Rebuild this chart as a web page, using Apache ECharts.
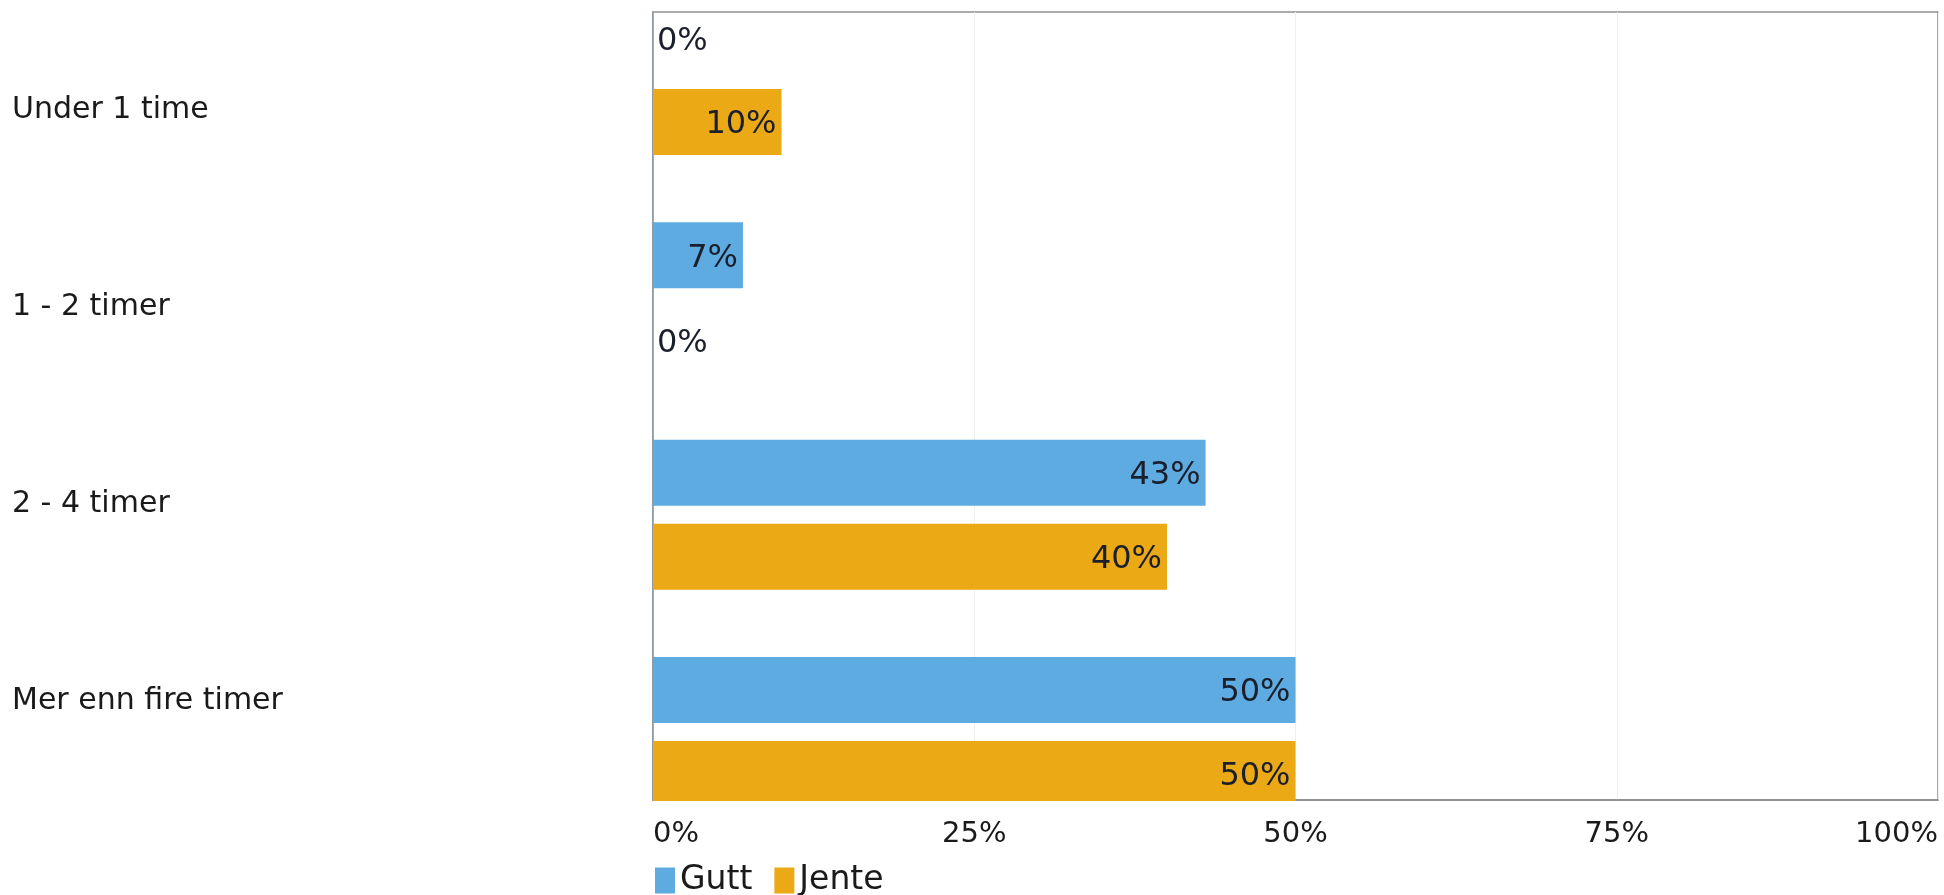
<!DOCTYPE html>
<html>
<head>
<meta charset="utf-8">
<script src="https://cdn.jsdelivr.net/npm/echarts@6/dist/echarts.min.js"></script>
<style>
html,body{margin:0;padding:0;background:#fff;}
#chart{width:1944px;height:895px;}
</style>
</head>
<body>
<div id="chart"></div>
<script>
var categories = ['Under 1 time', '1 - 2 timer', '2 - 4 timer', 'Mer enn fire timer'];
var gutt = [0, 7, 43, 50];
var jente = [10, 0, 40, 50];
var seriesNames = ['Gutt', 'Jente'];
var xTicks = [0, 25, 50, 75, 100];

var FONT = '"DejaVu Sans", Verdana, sans-serif';

function items(arr) {
  return arr.map(function (v) {
    return v === 0 ? { value: v, label: { position: 'right', distance: 4, offset: [0, 4] } } : { value: v };
  });
}

var labelCfg = {
  show: true,
  position: 'insideRight',
  distance: 5,
  offset: [0, 3],
  formatter: '{c}%',
  color: '#1a1f2b',
  fontFamily: FONT,
  fontSize: 32
};

var chart = echarts.init(document.getElementById('chart'), null, { renderer: 'canvas' });
chart.setOption({
  animation: false,
  backgroundColor: '#ffffff',
  grid: [
    { left: 653, right: 6, top: 12, bottom: 95, show: true, borderColor: '#8f8f8f', borderWidth: 1.5, backgroundColor: 'transparent' },
    { left: 653, right: 6, top: 80, bottom: 163 }
  ],
  legend: {
    data: seriesNames,
    left: 655,
    top: 864,
    icon: 'rect',
    itemWidth: 20,
    itemHeight: 26,
    itemGap: 22,
    padding: 0,
    textStyle: { fontFamily: FONT, fontSize: 33, color: '#1a1a1a' }
  },
  xAxis: [
    {
      gridIndex: 0, type: 'value', min: xTicks[0], max: xTicks[xTicks.length - 1], interval: 25,
      axisLine: { show: true, lineStyle: { color: '#8a8a8a', width: 1.5 } },
      axisTick: { show: false },
      splitLine: { show: true, lineStyle: { color: '#efefef', width: 1 } },
      axisLabel: {
        formatter: '{value}%', margin: 20, fontFamily: FONT, fontSize: 29, color: '#1a1a1a',
        alignMinLabel: 'left', alignMaxLabel: 'right'
      }
    },
    {
      gridIndex: 1, type: 'value', min: xTicks[0], max: xTicks[xTicks.length - 1], show: false,
      splitLine: { show: false }
    }
  ],
  yAxis: [
    {
      gridIndex: 0, type: 'category', data: categories, inverse: true,
      axisLine: { show: true, lineStyle: { color: '#8794a6', width: 1.5 } },
      axisTick: { show: false },
      splitLine: { show: false },
      axisLabel: { align: 'left', margin: 641, fontFamily: FONT, fontSize: 30, color: '#1a1a1a' }
    },
    {
      gridIndex: 1, type: 'category', data: categories, inverse: true, show: false, boundaryGap: false
    }
  ],
  series: [
    {
      name: seriesNames[0], type: 'bar', xAxisIndex: 1, yAxisIndex: 1, clip: false,
      data: items(gutt), barWidth: 66, barGap: '27.27%',
      itemStyle: { color: '#5eabe1' }, label: labelCfg
    },
    {
      name: seriesNames[1], type: 'bar', xAxisIndex: 1, yAxisIndex: 1, clip: false,
      data: items(jente), barWidth: 66, barGap: '27.27%',
      itemStyle: { color: '#eba915' }, label: labelCfg
    }
  ],
  graphic: [
    { type: 'rect', z: 100, shape: { x: 648, y: 801, width: 1290, height: 10 }, style: { fill: '#ffffff' }, silent: true }
  ]
});
</script>
</body>
</html>
